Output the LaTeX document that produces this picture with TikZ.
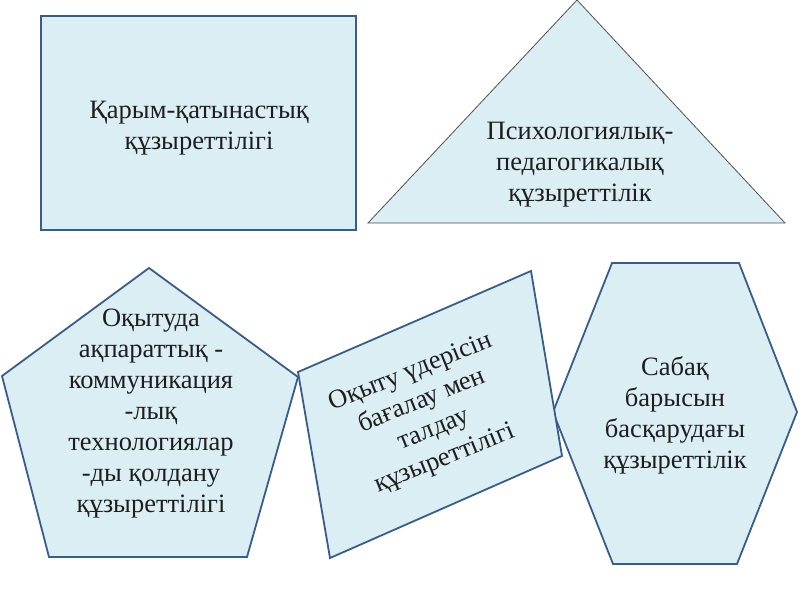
\documentclass[tikz,border=0pt]{standalone}
\usepackage{fontspec}
\setmainfont{Liberation Serif}
\definecolor{shapefill}{RGB}{219,238,244}
\definecolor{shapeline}{RGB}{56,93,138}
\definecolor{triline}{RGB}{80,80,80}
\definecolor{txt}{RGB}{30,30,30}
\tikzset{
  shapebox/.style={fill=shapefill,draw=shapeline,line width=1.8pt,line join=miter},
  tribox/.style={fill=shapefill,draw=triline,line width=0.8pt},
  label/.style={align=center,text=txt,font=\fontsize{26.5}{31}\selectfont,inner sep=0pt}
}
\begin{document}
\begin{tikzpicture}[x=1pt,y=-1pt]
\useasboundingbox (0,0) rectangle (800,600);
% rectangle
\draw[shapebox] (41,16) rectangle (356,230);
\node[label] (rect) at (199,128) {Қарым-қатынастық\\құзыреттілігі};
% triangle
\draw[tribox] (577,0) -- (785,223) -- (368,223) -- cycle;
\node[label] (tri) at (580,165) {Психологиялық-\\педагогикалық\\құзыреттілік};
% pentagon
\draw[shapebox] (149,268) -- (298,377) -- (247,557) -- (49,557) -- (2,376) -- cycle;
\node[label] (pent) at (151,414) {Оқытуда\\ақпараттық -\\коммуникация\\-лық\\технологиялар\\-ды қолдану\\құзыреттілігі};
% hexagon
\draw[shapebox] (612,263) -- (739,263) -- (797,412) -- (737,564) -- (613,564) -- (553,412) -- cycle;
\node[label] (hex) at (675,415) {Сабақ\\барысын\\басқарудағы\\құзыреттілік};
% parallelogram
\draw[shapebox] (298,372) -- (531,271) -- (562,456) -- (330,558) -- cycle;
\node[label,rotate=22] (para) at (428,416) {Оқыту үдерісін\\бағалау мен\\талдау\\құзыреттілігі};
\end{tikzpicture}
\end{document}
